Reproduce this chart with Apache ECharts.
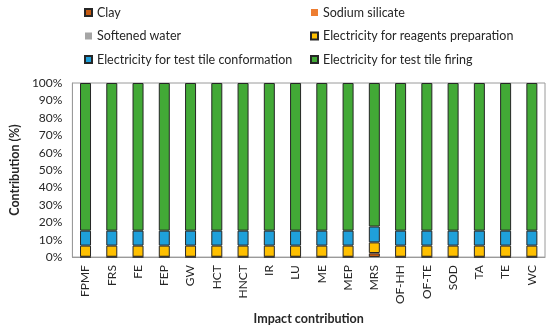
<!DOCTYPE html>
<html><head><meta charset="utf-8">
<script src="https://cdn.jsdelivr.net/npm/echarts@6/dist/echarts.min.js"></script>
<style>html,body{margin:0;padding:0;background:#fff}#c{width:550px;height:330px}</style>
</head><body><div id="c"></div>
<script>
const categories = ["FPMF","FRS","FE","FEP","GW","HCT","HNCT","IR","LU","ME","MEP","MRS","OF-HH","OF-TE","SOD","TA","TE","WC"];
const clay =         [0.1,0.1,0.1,0.1,0.1,0.1,0.1,0.1,0.1,0.1,0.1,2.2,0.1,0.1,0.1,0.1,0.1,0.1];
const sodiumSilicate=[0.05,0.05,0.05,0.05,0.05,0.05,0.05,0.05,0.05,0.05,0.05,0.1,0.05,0.05,0.05,0.05,0.05,0.05];
const softenedWater= [0.05,0.05,0.05,0.05,0.05,0.05,0.05,0.05,0.05,0.05,0.05,0.05,0.05,0.05,0.05,0.05,0.05,0.05];
const reagents =     [6.4,6.4,6.4,6.4,6.4,6.4,6.4,6.4,6.4,6.4,6.4,6.1,6.4,6.4,6.4,6.4,6.4,6.4];
const conformation = [8.6,8.6,8.6,8.6,8.6,8.6,8.6,8.6,8.6,8.6,8.6,9.1,8.6,8.6,8.6,8.6,8.6,8.6];
const firing =       [84.8,84.8,84.8,84.8,84.8,84.8,84.8,84.8,84.8,84.8,84.8,82.45,84.8,84.8,84.8,84.8,84.8,84.8];
const yTicks = ["0%","10%","20%","30%","40%","50%","60%","70%","80%","90%","100%"];

const font = "Lato, 'Open Sans', sans-serif";
const edge = '#262626';
function s(name, data, color, border) {
  return {name, type:'bar', stack:'t', data, barWidth:11,
    itemStyle:{color, borderColor: border ? edge : color, borderWidth: border ? 1 : 0}};
}
const legendCommon = {orient:'vertical', top:1, icon:'rect', itemWidth:7, itemHeight:7, itemGap:10.5,
  textStyle:{fontSize:12.5, color:'#262626', fontFamily:font}};
const chart = echarts.init(document.getElementById('c'), null, {renderer:'canvas'});
chart.setOption({
  animation:false,
  textStyle:{fontFamily:font},
  grid:{left:63, right:5, top:83, bottom:64, show:true, borderColor:'#9a9a9a', borderWidth:1},
  legend:[
    Object.assign({left:79, data:['Clay','Softened water','Electricity for test tile conformation']}, legendCommon),
    Object.assign({left:305, data:['Sodium silicate','Electricity for reagents preparation','Electricity for test tile firing']}, legendCommon)
  ],
  xAxis:{type:'category', data:categories,
    name:'Impact contribution', nameLocation:'middle', nameGap:48,
    nameTextStyle:{fontSize:12.5, fontWeight:'bold', color:'#262626'},
    axisLine:{lineStyle:{color:'#9a9a9a'}}, axisTick:{show:false},
    axisLabel:{rotate:90, fontSize:12, color:'#262626', margin:8}},
  yAxis:{type:'value', min:0, max:100, interval:10,
    name:'Contribution (%)', nameLocation:'middle', nameGap:46,
    nameTextStyle:{fontSize:12.5, fontWeight:'bold', color:'#262626'},
    axisLine:{show:true, lineStyle:{color:'#9a9a9a'}}, axisTick:{show:false},
    splitLine:{show:false},
    axisLabel:{fontSize:12, color:'#262626', margin:10,
      formatter:(v)=>yTicks[Math.round(v/10)]}},
  series:[
    s('Clay', clay, '#C55A11', true),
    s('Sodium silicate', sodiumSilicate, '#ED7D31', false),
    s('Softened water', softenedWater, '#A5A5A5', false),
    s('Electricity for reagents preparation', reagents, '#FFC000', true),
    s('Electricity for test tile conformation', conformation, '#1FA0DA', true),
    s('Electricity for test tile firing', firing, '#42A936', true)
  ]
});
</script></body></html>
